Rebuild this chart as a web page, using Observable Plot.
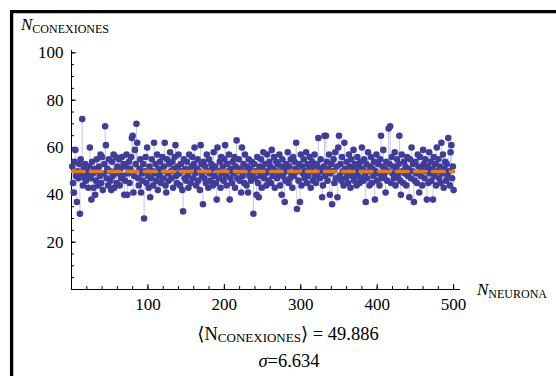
<!DOCTYPE html>
<html>
<head>
<meta charset="utf-8">
<script src="https://cdn.jsdelivr.net/npm/d3@7"></script>
<script src="https://cdn.jsdelivr.net/npm/@observablehq/plot@0.6"></script>
<style>
  html, body { margin: 0; padding: 0; background: #fff; overflow: hidden; }
</style>
</head>
<body>
<div id="chart"></div>
<script>
// Connections per neuron (N_CONEXIONES) for neurons 1..500
const connections = [
  52,45,41,54,59,48,37,50,47,53,
  32,55,49,72,44,51,47,53,46,50,
  48,43,52,60,47,38,54,49,43,51,
  40,46,55,50,44,52,48,57,45,56,
  42,49,53,69,61,47,51,44,55,50,
  46,42,54,48,57,43,50,56,45,52,
  49,55,44,51,47,56,48,53,40,46,
  52,57,40,49,54,45,51,56,64,65,
  41,48,59,53,70,62,47,44,51,55,
  41,49,46,53,30,50,56,45,60,48,
  43,52,39,47,55,50,44,62,49,53,
  46,57,42,51,48,54,45,50,56,47,
  52,62,44,41,55,49,46,53,58,50,
  47,54,43,51,56,61,48,45,52,57,
  49,44,53,50,42,33,55,47,51,46,
  54,48,43,57,50,45,52,56,47,53,
  60,49,44,51,55,46,50,42,61,53,
  48,36,54,47,52,45,57,50,43,55,
  49,46,53,51,44,58,48,52,45,38,
  60,50,47,54,43,56,49,52,46,55,
  61,48,44,53,50,57,38,47,51,45,
  54,49,56,43,52,63,47,50,55,46,
  51,41,60,48,53,45,57,50,44,52,
  41,55,48,51,46,54,49,32,53,47,
  50,40,56,45,39,52,48,55,43,51,
  58,47,53,49,44,57,50,46,54,52,
  45,59,48,51,56,43,50,54,47,53,
  49,57,44,52,40,55,48,51,37,46,
  53,50,58,45,52,47,55,49,43,56,
  48,54,51,62,34,50,46,53,37,57,
  44,52,49,55,47,50,58,45,53,48,
  51,56,43,50,54,46,52,57,48,45,
  53,49,64,51,47,55,50,39,44,52,
  65,48,65,54,46,51,57,40,49,53,
  36,50,55,45,58,47,52,39,60,65,
  48,53,46,56,50,44,62,51,47,54,
  49,45,57,52,43,55,48,51,59,46,
  53,50,44,56,48,52,45,54,47,60,
  51,46,55,49,37,53,47,58,50,44,
  52,56,45,51,48,54,38,50,57,46,
  53,49,44,55,65,47,52,59,48,51,
  41,54,46,50,68,53,69,45,56,49,
  52,47,58,44,51,55,48,53,65,46,
  40,57,50,45,54,49,52,44,56,48,
  51,39,55,47,60,50,53,37,46,54,
  49,45,57,52,41,56,48,51,44,59,
  53,47,55,50,38,52,45,58,49,54,
  46,51,38,56,48,53,44,60,50,55,
  47,52,45,62,49,57,43,51,54,46,
  53,48,64,50,44,58,61,47,52,42
];
const meanValue = 49.886;
const sigmaValue = 6.634;
const xMajorTicks = [100, 200, 300, 400, 500];
const xMinorTicks = d3.range(0, 501, 20);
const yMajorTicks = [20, 40, 60, 80, 100];
const yMinorTicks = d3.range(0, 101, 5);

const data = connections.map((v, i) => ({neuron: i + 1, n: v}));

const serif = "Liberation Serif, Times New Roman, DejaVu Serif, serif";
const blue = "#3f3d99";

const plot = Plot.plot({
  width: 556,
  height: 376,
  marginLeft: 71,
  marginRight: 96,
  marginTop: 50,
  marginBottom: 87,
  x: {domain: [0, 509], axis: null},
  y: {domain: [0, 101], axis: null},
  style: {fontFamily: serif, fontSize: "17px", background: "white", color: "black"},
  marks: [
    // filling from mean to each point
    Plot.link(data, {x1: "neuron", x2: "neuron", y1: () => meanValue, y2: "n", stroke: "#c6c6e4", strokeWidth: 1}),
    // axes lines
    Plot.ruleX([0], {stroke: "black", strokeWidth: 1}),
    Plot.ruleY([0], {stroke: "black", strokeWidth: 1}),
    // ticks (inward)
    Plot.axisY(yMinorTicks, {anchor: "left", tickSize: -3, tickFormat: () => "", stroke: "black", label: null}),
    Plot.axisY(yMajorTicks, {anchor: "left", tickSize: -5, tickFormat: () => "", stroke: "black", label: null}),
    Plot.axisY(yMajorTicks, {anchor: "left", tickSize: 0, tickPadding: 8, fontSize: 17, fontFamily: serif, label: null}),
    Plot.axisX(xMinorTicks, {anchor: "bottom", tickSize: -3, tickFormat: () => "", stroke: "black", label: null}),
    Plot.axisX(xMajorTicks, {anchor: "bottom", tickSize: -5, tickFormat: () => "", stroke: "black", label: null}),
    Plot.axisX(xMajorTicks, {anchor: "bottom", tickSize: 0, tickPadding: 8, fontSize: 17, fontFamily: serif, label: null}),
    // points
    Plot.dot(data, {x: "neuron", y: "n", r: 3.3, fill: blue, stroke: "none"}),
    // mean line
    Plot.lineY(data, {x: "neuron", y: () => meanValue, stroke: "#e07d1c", strokeWidth: 3.5, strokeDasharray: "12,6"})
  ]
});

document.getElementById("chart").appendChild(plot);

const svg = d3.select(plot);
// frame
svg.append("line").attr("x1", 11.6).attr("x2", 556).attr("y1", 11.6).attr("y2", 11.6)
  .attr("stroke", "black").attr("stroke-width", 3.3);
svg.append("line").attr("x1", 11.6).attr("x2", 11.6).attr("y1", 10).attr("y2", 376)
  .attr("stroke", "black").attr("stroke-width", 3.3);

// y axis title
const yt = svg.append("text").attr("x", 21).attr("y", 30).attr("text-anchor", "start")
  .attr("font-family", serif).attr("fill", "black");
yt.append("tspan").attr("font-style", "italic").attr("font-size", 17).text("N");
yt.append("tspan").attr("font-size", 12).attr("dy", 3).text("CONEXIONES");

// x axis title
const xt = svg.append("text").attr("x", 477).attr("y", 295).attr("text-anchor", "start")
  .attr("font-family", serif).attr("fill", "black");
xt.append("tspan").attr("font-style", "italic").attr("font-size", 17).text("N");
xt.append("tspan").attr("font-size", 12).attr("dy", 3).text("NEURONA");

// summary lines
const m = svg.append("text").attr("x", 288).attr("y", 340).attr("text-anchor", "middle")
  .attr("font-family", serif).attr("font-size", 18.5).attr("fill", "black");
m.append("tspan").text("\u27E8N");
m.append("tspan").attr("font-size", 13).attr("dy", 2).text("CONEXIONES");
m.append("tspan").attr("dy", -2).text("\u27E9 = " + meanValue.toFixed(3));

const s = svg.append("text").attr("x", 289).attr("y", 367).attr("text-anchor", "middle")
  .attr("font-family", serif).attr("font-size", 18.5).attr("fill", "black");
s.append("tspan").attr("font-style", "italic").text("\u03C3");
s.append("tspan").text("=" + sigmaValue.toFixed(3));
</script>
</body>
</html>
